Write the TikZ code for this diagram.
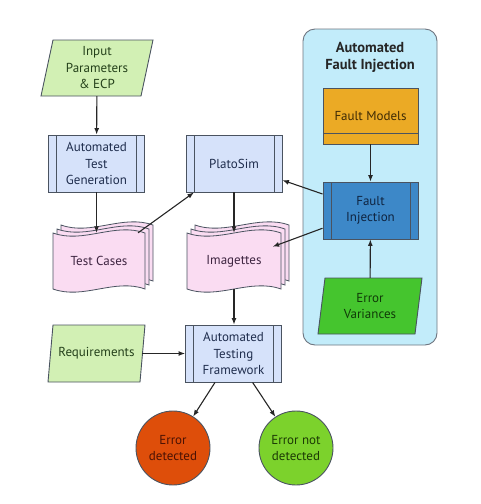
\documentclass[tikz,border=0pt]{standalone}
\usepackage{fontspec}
\setmainfont{PT Sans}
\usetikzlibrary{arrows.meta,calc}
\definecolor{bluefill}{HTML}{D6E2FA}
\definecolor{greenfill}{HTML}{D2F0B4}
\definecolor{pinkfill}{HTML}{FADCF2}
\definecolor{cyanfill}{HTML}{C2ECFA}
\definecolor{orangefill}{HTML}{EBAA25}
\definecolor{fiblue}{HTML}{3D88C8}
\definecolor{evgreen}{HTML}{45C52E}
\definecolor{edred}{HTML}{DE4E0A}
\definecolor{endgreen}{HTML}{7CD22C}
\definecolor{edgecol}{HTML}{4A5360}
\definecolor{bluetext}{HTML}{1F2D4D}
\definecolor{greentext}{HTML}{24401A}
\definecolor{pinktext}{HTML}{3D2440}
\definecolor{orangetext}{HTML}{3D2A05}
\definecolor{fitext}{HTML}{0F2440}
\definecolor{evtext}{HTML}{103A08}
\definecolor{edtext}{HTML}{4A1204}
\definecolor{endtext}{HTML}{1C3A05}
\newcommand\tapeone[4]{%
  \draw[tapeline] (#1,#2) .. controls +({0.33*#3},11) and +({-0.33*#3},-11) .. ++(#3,0)
    -- ++(0,#4) .. controls +({-0.33*#3},-11) and +({0.33*#3},11) .. ++({-#3},0) -- cycle;}
\newcommand\tapestack[4]{%
  \tapeone{#1+8}{#2-8}{#3}{#4}%
  \tapeone{#1+4}{#2-4}{#3}{#4}%
  \tapeone{#1}{#2}{#3}{#4}}
\begin{document}
\begin{tikzpicture}[x=1pt,y=-1pt,
  every node/.style={font=\fontsize{13}{16.5}\selectfont, align=center, inner sep=0pt},
  proc/.style={rectangle, draw=edgecol, line width=0.9pt, fill=bluefill, text=bluetext,
    minimum width=96pt, minimum height=57pt,
    path picture={\draw[edgecol, line width=0.9pt]
      ([xshift=8pt]path picture bounding box.north west) -- ([xshift=8pt]path picture bounding box.south west)
      ([xshift=-8pt]path picture bounding box.north east) -- ([xshift=-8pt]path picture bounding box.south east);}},
  paraline/.style={draw=edgecol, line width=0.9pt, fill=greenfill},
  paratext/.style={text=greentext, minimum width=90pt, minimum height=56pt},
  tapeline/.style={draw=edgecol, line width=0.8pt, fill=pinkfill},
  tapetext/.style={text=pinktext, minimum width=92pt, minimum height=56pt},
  circ/.style={circle, draw=edgecol, line width=0.9pt, minimum size=74pt},
  arr/.style={-{Latex[length=6.5pt,width=5pt]}, line width=1.1pt, draw=black!85}]
\useasboundingbox (0,0) rectangle (480,504);
% container
\draw[draw=edgecol!80, fill=cyanfill, rounded corners=12pt, line width=0.9pt] (303,29) rectangle (437,345);
\node[font=\bfseries\fontsize{14.5}{17}\selectfont, text=black!85] (title) at (370,57) {Automated\\Fault Injection};
% parallelograms
\draw[paraline] (53,40) -- (153,40) -- (141,96) -- (41,96) -- cycle;
\node[paratext] (inp) at (97,68) {Input\\Parameters\\\& ECP};
\draw[paraline] (53,325) -- (145,325) -- (140,382) -- (48,382) -- cycle;
\node[paratext] (req) at (96.5,353.5) {Requirements};
\draw[paraline, fill=evgreen] (325,278) -- (422,278) -- (415,334) -- (318,334) -- cycle;
\node[paratext, text=evtext] (ev) at (370,306) {Error\\Variances};
% process boxes
\node[proc] (atg) at (96.5,163.5) {Automated\\Test\\Generation};
\node[proc] (plato) at (234,163.5) {PlatoSim};
\node[proc] (atf) at (233.5,353.5) {Automated\\Testing\\Framework};
\node[proc, fill=fiblue, text=fitext, minimum width=95pt] (fi) at (370.5,210.5) {Fault\\Injection};
\node[rectangle, draw=edgecol, line width=0.9pt, fill=orangefill, text=orangetext,
  minimum width=95pt, minimum height=56pt,
  path picture={\draw[edgecol, line width=0.9pt] ([yshift=11pt]path picture bounding box.south west) -- ([yshift=11pt]path picture bounding box.south east);}]
  (fm) at (370.5,116) {Fault Models};
% tapes
\tapestack{53}{233}{92}{56}
\node[tapetext] (tc) at (99,261) {Test Cases};
\tapestack{187}{233}{94}{56}
\node[tapetext] (img) at (234,261) {Imagettes};
% circles
\node[circ, fill=edred, text=edtext] (ed) at (173,448) {Error\\detected};
\node[circ, fill=endgreen, text=endtext] (end) at (296,448) {Error not\\detected};
% arrows
\draw[arr] (inp) -- (atg);
\draw[arr] (atg) -- (atg |- tc.north);
\draw[arr] (tc) -- (plato);
\draw[arr] (plato) -- (plato |- img.north);
\draw[arr] (fi) -- (plato);
\draw[arr, shorten >=-8pt] (fi) -- (img);
\draw[arr] (fm) -- (fi);
\draw[arr] (ev) -- (fi);
\draw[arr] (img) -- (img |- atf.north);
\draw[arr] (req) -- (atf);
\draw[arr] (atf) -- (ed);
\draw[arr] (atf) -- (end);
\end{tikzpicture}
\end{document}
